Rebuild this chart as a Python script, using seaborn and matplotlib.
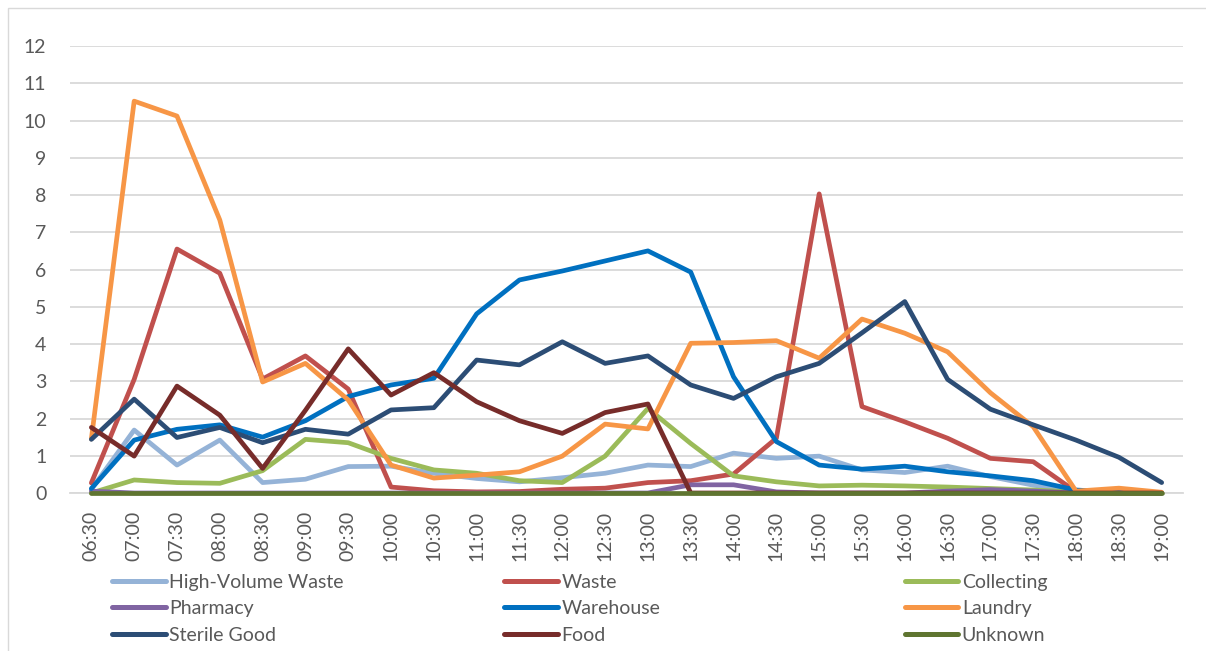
import numpy as np
import pandas as pd
import seaborn as sns
import matplotlib.pyplot as plt
from matplotlib.lines import Line2D
from matplotlib.patches import Rectangle

times = ["06:30", "07:00", "07:30", "08:00", "08:30", "09:00", "09:30", "10:00",
         "10:30", "11:00", "11:30", "12:00", "12:30", "13:00", "13:30", "14:00",
         "14:30", "15:00", "15:30", "16:00", "16:30", "17:00", "17:30", "18:00",
         "18:30", "19:00"]

high_volume_waste = [0.10, 1.69, 0.75, 1.42, 0.28, 0.37, 0.71, 0.72, 0.53, 0.39, 0.30, 0.41, 0.53,
                     0.75, 0.71, 1.07, 0.93, 0.99, 0.62, 0.55, 0.72, 0.44, 0.21, 0.05, 0.00, 0.00]
waste = [0.27, 3.05, 6.55, 5.90, 3.06, 3.68, 2.79, 0.16, 0.06, 0.03, 0.04, 0.10, 0.13,
         0.28, 0.33, 0.51, 1.47, 8.03, 2.32, 1.91, 1.47, 0.93, 0.84, 0.03, 0.00, 0.00]
collecting = [0.00, 0.35, 0.28, 0.26, 0.60, 1.44, 1.35, 0.93, 0.62, 0.53, 0.33, 0.28, 0.99,
              2.27, 1.33, 0.46, 0.30, 0.19, 0.21, 0.19, 0.16, 0.12, 0.08, 0.03, 0.00, 0.00]
pharmacy = [0.05, 0.00, 0.00, 0.00, 0.00, 0.00, 0.00, 0.00, 0.00, 0.00, 0.00, 0.00, 0.00,
            0.00, 0.22, 0.22, 0.03, 0.00, 0.00, 0.00, 0.05, 0.09, 0.05, 0.00, 0.00, 0.00]
warehouse = [0.12, 1.42, 1.71, 1.83, 1.50, 1.94, 2.59, 2.90, 3.08, 4.81, 5.72, 5.96, 6.23,
             6.50, 5.93, 3.12, 1.38, 0.75, 0.64, 0.72, 0.57, 0.46, 0.33, 0.08, 0.02, 0.00]
laundry = [1.45, 10.52, 10.12, 7.33, 2.98, 3.48, 2.50, 0.75, 0.40, 0.48, 0.57, 0.99, 1.85,
           1.72, 4.02, 4.04, 4.09, 3.62, 4.67, 4.29, 3.79, 2.69, 1.78, 0.05, 0.13, 0.02]
sterile_good = [1.44, 2.52, 1.49, 1.76, 1.35, 1.71, 1.58, 2.23, 2.29, 3.57, 3.44, 4.06, 3.48,
                3.68, 2.90, 2.54, 3.12, 3.48, 4.30, 5.14, 3.05, 2.25, 1.83, 1.42, 0.96, 0.28]
food = [1.76, 0.99, 2.87, 2.09, 0.66, 2.22, 3.87, 2.63, 3.23, 2.45, 1.94, 1.60, 2.16,
        2.39, 0.00, 0.00, 0.00, 0.00, 0.00, 0.00, 0.00, 0.00, 0.00, 0.00, 0.00, 0.00]
unknown = [0.00] * 26

series_names = ["High-Volume Waste", "Waste", "Collecting", "Pharmacy", "Warehouse",
                "Laundry", "Sterile Good", "Food", "Unknown"]
series_values = [high_volume_waste, waste, collecting, pharmacy, warehouse,
                 laundry, sterile_good, food, unknown]
colors = ["#95B3D7", "#C0504D", "#9BBB59", "#8064A2", "#0070C0",
          "#F79646", "#2C4D75", "#772C2A", "#5F7530"]
y_ticks = list(range(0, 13))

rows = []
for name, vals in zip(series_names, series_values):
    for i, v in enumerate(vals):
        rows.append({"slot": i, "value": v, "series": name})
df = pd.DataFrame(rows)

sns.set_style("white")
plt.rcParams["font.family"] = ["Lato", "DejaVu Sans"]

fig = plt.figure(figsize=(12.06, 6.51), dpi=100)
ax = fig.add_axes([0.058, 0.2427, 0.923, 0.6866])

LW = 3.4
palette = dict(zip(series_names, colors))
sns.lineplot(data=df, x="slot", y="value", hue="series", hue_order=series_names,
             palette=palette, linewidth=LW, ax=ax, legend=False,
             solid_joinstyle="round", solid_capstyle="round", sort=False)
for line in ax.get_lines():
    line.set_clip_on(False)
    line.set_zorder(3)

ax.set_xlim(-0.5, len(times) - 0.5)
ax.set_ylim(0, 12)
ax.set_yticks(y_ticks)
ax.set_yticklabels([str(t) for t in y_ticks], fontsize=14, color="#595959")
ax.set_xticks(range(len(times)))
ax.set_xticklabels(times, rotation=90, fontsize=14, color="#595959")
ax.tick_params(axis="x", length=0, pad=13)
ax.tick_params(axis="y", length=0, pad=17)
ax.set_xlabel("")
ax.set_ylabel("")
ax.grid(axis="y", color="#D9D9D9", linewidth=1.3, zorder=0)
ax.set_axisbelow(True)
for side in ["top", "right", "left"]:
    ax.spines[side].set_visible(False)
ax.spines["bottom"].set_color("#D9D9D9")
ax.spines["bottom"].set_linewidth(1.3)
ax.spines["bottom"].set_zorder(1)

# Legend in three columns, each placed on its own
columns = [[0, 3, 6], [1, 4, 7], [2, 5, 8]]
col_x = [0.0929, 0.418, 0.750]
for cx, idxs in zip(col_x, columns):
    handles = [Line2D([0], [0], color=colors[k], linewidth=LW + 0.2,
                      solid_capstyle="round") for k in idxs]
    labels = [series_names[k] for k in idxs]
    fig.legend(handles, labels, loc="upper left", bbox_to_anchor=(cx, 0.119),
               frameon=False, fontsize=14, handlelength=2.75, handletextpad=0.2,
               labelspacing=0.5, borderpad=0, borderaxespad=0,
               labelcolor="#595959")

fig.add_artist(Rectangle((8 / 1206, -10 / 651), 1210 / 1206, 653 / 651,
                         transform=fig.transFigure, fill=False,
                         edgecolor="#D9D9D9", linewidth=1.0))

fig.savefig("out.png", dpi=100)
